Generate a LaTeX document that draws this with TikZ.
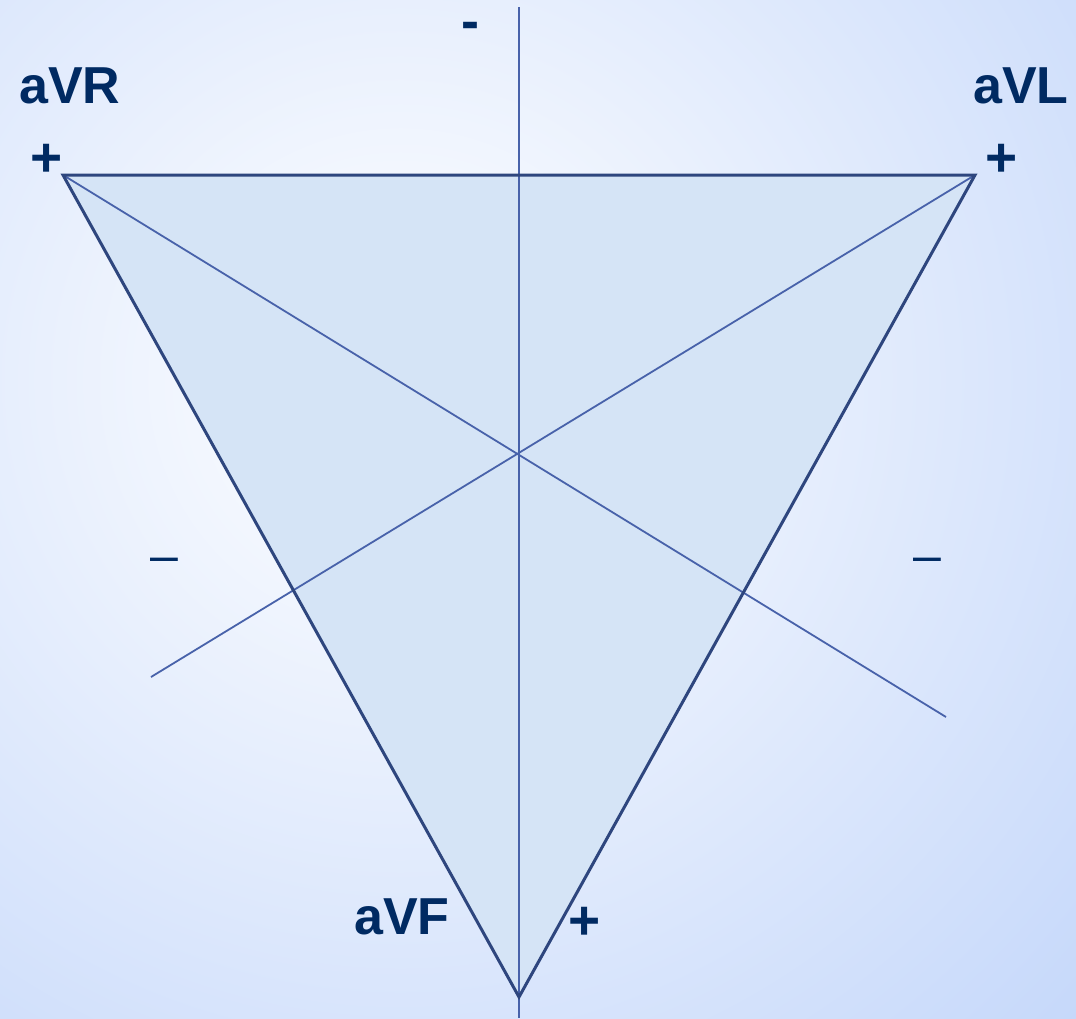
\documentclass[tikz,border=0pt]{standalone}
\usepackage{fontspec}
\usepackage{tikz}
\usetikzlibrary{calc}
\setmainfont{Liberation Sans}
\definecolor{leadnavy}{RGB}{0,42,98}
\definecolor{edgeblue}{RGB}{46,70,126}
\definecolor{axisblue}{RGB}{72,98,170}
\definecolor{trifill}{RGB}{213,228,246}
\definecolor{bgouter}{RGB}{196,215,250}

\begin{document}
\begin{tikzpicture}[x=1pt,y=-1pt,
  leadlabel/.style={font=\fontsize{52}{52}\selectfont\bfseries,text=leadnavy,inner sep=0pt},
  polesign/.style={font=\fontsize{50}{50}\selectfont,text=leadnavy,inner sep=0pt},
  axisline/.style={draw=axisblue,line width=1.8pt},
  triedge/.style={draw=edgeblue,line width=3pt,line join=miter}]

  % ── background ───────────────────────────────────────────────────
  \useasboundingbox (0,0) rectangle (1076,1018);
  \begin{scope}
    \clip (0,0) rectangle (1076,1018);
    \shade[inner color=white,outer color=bgouter] (400,380) circle (960);
  \end{scope}

  % ── triangle corners and axis ends ───────────────────────────────
  \coordinate (R) at (63,175);
  \coordinate (L) at (975,175);
  \coordinate (F) at (519,997);
  \coordinate (Ftop) at (519,7);
  \coordinate (Fbot) at (519,1018);
  \coordinate (Rend) at (946,717);
  \coordinate (Lend) at (151,677);

  % fill
  \fill[trifill] (R)--(L)--(F)--cycle;

  % lead axes
  \draw[axisline] (Ftop)--(Fbot);
  \draw[axisline] (R)--(Rend);
  \draw[axisline] (L)--(Lend);

  % edges
  \draw[triedge] (R)--(L)--(F)--cycle;

  % ── labels ───────────────────────────────────────────────────────
  \node[leadlabel,anchor=base west] (aVR) at (19,103) {aVR};
  \node[leadlabel,anchor=base west] (aVL) at (973,103) {aVL};
  \node[leadlabel,anchor=base west] (aVF) at (354,934) {aVF};

  \node[leadlabel,anchor=base,font=\fontsize{55}{55}\selectfont\bfseries] (plusR) at (47,176) {+};
  \node[leadlabel,anchor=base,font=\fontsize{55}{55}\selectfont\bfseries] (plusL) at (1002,176) {+};
  \node[leadlabel,anchor=base,font=\fontsize{55}{55}\selectfont\bfseries] (plusF) at (585,939) {+};

  \node[leadlabel,anchor=base,font=\fontsize{54}{54}\selectfont\bfseries] (minusF) at (470,39) {-};
  \node[polesign,anchor=base] (minusR) at (164,572) {–};
  \node[polesign,anchor=base] (minusL) at (927,572) {–};

\end{tikzpicture}
\end{document}
